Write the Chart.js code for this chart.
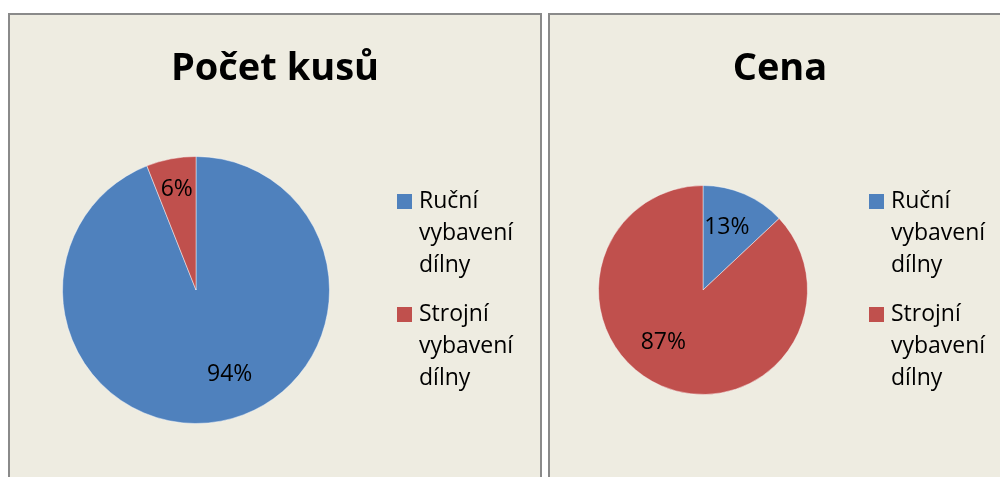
<!DOCTYPE html>
<html>
<head>
<meta charset="utf-8">
<script src="https://cdn.jsdelivr.net/npm/chart.js@4"></script>
<style>
    html, body { margin: 0; padding: 0; background: #ffffff; overflow: hidden; }
    .panel {
        position: absolute;
        top: 13px;
        height: 480px;
        border: 2px solid #8a8a8a;
        border-bottom: none;
        background: #eeece1;
    }
    #panelLeft { left: 8px; width: 530px; }
    #panelRight { left: 548px; width: 470px; }
    canvas { display: block; }
</style>
</head>
<body>
<div class="panel" id="panelLeft"><canvas id="chartLeft" width="530" height="462"></canvas></div>
<div class="panel" id="panelRight"><canvas id="chartRight" width="450" height="462"></canvas></div>

<script>
// data
const categories = ["Ruční vybavení dílny", "Strojní vybavení dílny"];
const kusyValues = [94, 6];   // Počet kusů (%)
const cenaValues = [13, 87];  // Cena (%)
const sliceColors = ["#4f81bd", "#c0504d"];
const FONT = "'Open Sans', 'Noto Sans', sans-serif";

// titulek, popisky procent a legenda kreslene primo do canvasu
const panelDecor = {
    id: 'panelDecor',
    afterDraw(chart, args, opts) {
        const ctx = chart.ctx;
        const ds = chart.data.datasets[0];
        const total = ds.data.reduce((a, b) => a + b, 0);
        ctx.save();

        // titulek
        ctx.fillStyle = '#000';
        ctx.font = 'bold 38px ' + FONT;
        ctx.textAlign = 'center';
        ctx.textBaseline = 'alphabetic';
        ctx.fillText(opts.title, opts.titleX, 65);

        // procenta ve vysecich
        ctx.font = '23px ' + FONT;
        ctx.textBaseline = 'middle';
        chart.getDatasetMeta(0).data.forEach((arc, i) => {
            const mid = (arc.startAngle + arc.endAngle) / 2 + opts.labelShift[i] * Math.PI / 180;
            const r = arc.outerRadius * opts.labelRadius[i];
            const pct = Math.round(ds.data[i] / total * 100) + '%';
            ctx.fillText(pct, arc.x + Math.cos(mid) * r, arc.y + Math.sin(mid) * r);
        });

        // legenda (kazde slovo na novem radku)
        ctx.textAlign = 'left';
        ctx.textBaseline = 'alphabetic';
        let y = 193;
        chart.data.labels.forEach((label, i) => {
            ctx.fillStyle = ds.backgroundColor[i];
            ctx.fillRect(opts.legendX, y - 14, 15, 15);
            ctx.fillStyle = '#000';
            label.split(' ').forEach((word, j) => {
                ctx.fillText(word, opts.legendX + 22, y + j * 32);
            });
            y += 2 * 32 + 49;
        });
        ctx.restore();
    }
};

function makePie(canvasId, values, decor, padding) {
    const ctx = document.getElementById(canvasId).getContext('2d');
    return new Chart(ctx, {
        type: 'pie',
        data: {
            labels: categories,
            datasets: [{
                data: values,
                backgroundColor: sliceColors,
                borderColor: 'rgba(255, 255, 255, 0.45)',
                borderWidth: 1
            }]
        },
        options: {
            responsive: false,
            animation: false,
            layout: { padding: padding },
            plugins: {
                legend: { display: false },
                tooltip: { enabled: false },
                panelDecor: decor
            }
        },
        plugins: [panelDecor]
    });
}

makePie('chartLeft', kusyValues, {
    title: 'Počet kusů',
    titleX: 265,
    legendX: 387,
    labelRadius: [0.68, 0.77],
    labelShift: [-11, 0]
}, { left: 52, top: 141, right: 210, bottom: 53 });

makePie('chartRight', cenaValues, {
    title: 'Cena',
    titleX: 230,
    legendX: 319,
    labelRadius: [0.64, 0.63],
    labelShift: [-2.5, 13.6]
}, { left: 48, top: 170, right: 192, bottom: 82 });
</script>
</body>
</html>
